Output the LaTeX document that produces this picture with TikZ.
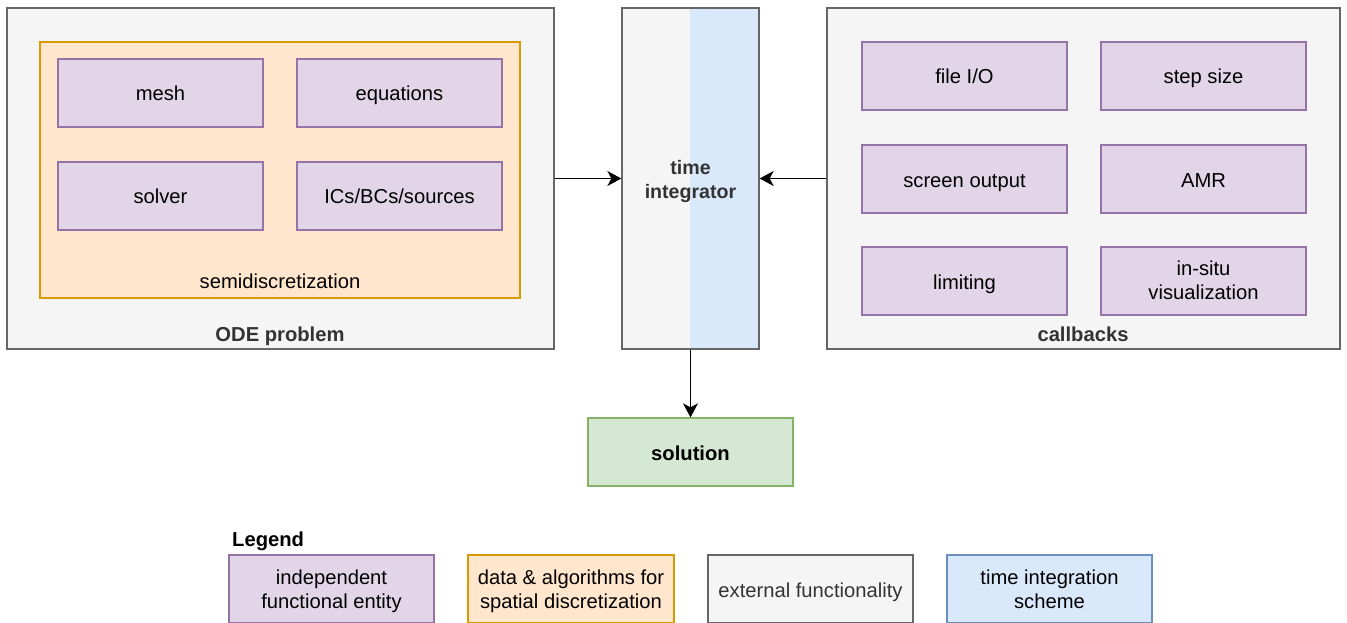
\documentclass[tikz,border=0pt]{standalone}
\usepackage{fontspec}
\setmainfont{Liberation Sans}
\usetikzlibrary{arrows.meta,positioning}
\definecolor{grayfill}{HTML}{F5F5F5}
\definecolor{graystroke}{HTML}{666666}
\definecolor{orfill}{HTML}{FFE6CC}
\definecolor{orstroke}{HTML}{D79B00}
\definecolor{pufill}{HTML}{E1D5E7}
\definecolor{pustroke}{HTML}{9673A6}
\definecolor{blfill}{HTML}{DAE8FC}
\definecolor{blstroke}{HTML}{6C8EBF}
\definecolor{grfill}{HTML}{D5E8D4}
\definecolor{grstroke}{HTML}{82B366}
\definecolor{darktext}{HTML}{333333}
\newcommand{\twol}[2]{\begin{tabular}[t]{@{}c@{}}#1\\#2\end{tabular}}
\tikzset{
  base/.style={rectangle, line width=1.3pt, inner sep=0pt, text height=17pt, text depth=1pt, font=\fontsize{20.2}{23.5}\selectfont},
  two/.style={text height=10pt, text depth=#1},
  ent/.style={base, fill=pufill, draw=pustroke, minimum width=205pt, minimum height=68pt},
  ext/.style={base, fill=grayfill, draw=graystroke, text=darktext},
  semi/.style={base, fill=orfill, draw=orstroke},
  lbl/.style={inner sep=0pt, font=\fontsize{20.2}{24}\selectfont, anchor=base},
  lblb/.style={lbl, font=\fontsize{20.2}{24}\selectfont\bfseries, text=darktext},
  conn/.style={line width=1.3pt, -{Stealth[length=14pt,width=15pt,inset=4pt]}},
}
\begin{document}
\begin{tikzpicture}[x=1pt,y=-1pt]
\useasboundingbox (0,0) rectangle (1347,623);
% ODE problem
\node[ext, minimum width=547pt, minimum height=341pt] (ode) at (280.5,178.5) {};
\node[lblb] (odel) at (280,341) {ODE problem};
\node[semi, minimum width=480pt, minimum height=256pt] (semi) at (280,170) {};
\node[lbl] (semil) at (280,288.5) {semidiscretization};
\node[ent] (mesh) at (160.5,93) {mesh};
\node[ent] (eqs) at (399.5,93) {equations};
\node[ent] (solver) at (160.5,196) {solver};
\node[ent] (ics) at (399.5,196) {ICs/BCs/sources};
% time integrator
\fill[grayfill] (622,8) rectangle (690,349);
\fill[blfill] (690,8) rectangle (759,349);
\node[base, two=17pt, draw=graystroke, minimum width=137pt, minimum height=341pt, text=darktext, font=\fontsize{19.6}{23.5}\selectfont\bfseries] (ti) at (690.5,178.5) {\twol{time}{integrator}};
% callbacks
\node[ext, minimum width=513pt, minimum height=341pt] (cb) at (1083.5,178.5) {};
\node[lblb] (cbl) at (1083,341) {callbacks};
\node[ent] (fio) at (964.5,76) {file I/O};
\node[ent] (step) at (1203.5,76) {step size};
\node[ent] (scr) at (964.5,179) {screen output};
\node[ent] (amr) at (1203.5,179) {AMR};
\node[ent] (lim) at (964.5,281) {limiting};
\node[ent, two=21pt] (insitu) at (1203.5,281) {\twol{in-situ}{visualization}};
% solution
\node[base, fill=grfill, draw=grstroke, minimum width=205pt, minimum height=68pt, font=\fontsize{20.2}{23.5}\selectfont\bfseries] (sol) at (690.5,452) {solution};
% connectors
\draw[conn] (ode.east |- ti.west) -- (ti.west);
\draw[conn] (cb.west |- ti.east) -- (ti.east);
\draw[conn] (ti.south) -- (sol.north);
% legend
\node[lbl, anchor=base west, font=\fontsize{20.2}{24}\selectfont\bfseries] (leg) at (232,546) {Legend};
\node[ent, two=18.6pt] (l1) at (331.5,589) {\twol{independent}{functional entity}};
\node[semi, two=18.6pt, minimum width=206pt, minimum height=68pt] (l2) at (571,589) {\twol{data \& algorithms for}{spatial discretization}};
\node[ext, minimum width=205pt, minimum height=68pt] (l3) at (810.5,589) {external functionality};
\node[base, two=18.6pt, fill=blfill, draw=blstroke, minimum width=205pt, minimum height=68pt] (l4) at (1049.5,589) {\twol{time integration}{scheme}};
\end{tikzpicture}
\end{document}
